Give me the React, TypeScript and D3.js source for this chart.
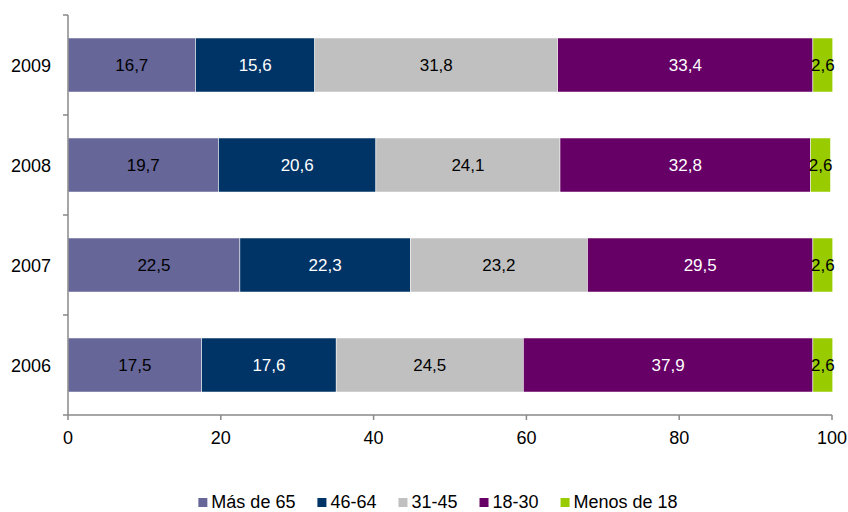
import { useEffect, useRef } from 'react';
import * as d3 from 'd3';

const years = ['2009', '2008', '2007', '2006'];
const groups = ['Más de 65', '46-64', '31-45', '18-30', 'Menos de 18'];
const colors = ['#666699', '#003366', '#c0c0c0', '#660066', '#99cc00'];
const labelColors = ['#000', '#fff', '#000', '#fff', '#000'];
const mas65 = [16.7, 19.7, 22.5, 17.5];
const de46a64 = [15.6, 20.6, 22.3, 17.6];
const de31a45 = [31.8, 24.1, 23.2, 24.5];
const de18a30 = [33.4, 32.8, 29.5, 37.9];
const menos18 = [2.6, 2.6, 2.6, 2.6];
const xTicks = [0, 20, 40, 60, 80, 100];

const App = () => {
  const svgRef = useRef<SVGSVGElement>(null);

  useEffect(() => {
    const w = 848;
    const h = 512;
    const margin = { top: 15, left: 68, right: 16, bottom: 97 };
    const svg = d3.select(svgRef.current);
    svg.selectAll('*').remove();
    svg.attr('width', w).attr('height', h);

    const font = '"Liberation Sans", Arial, sans-serif';
    const x = d3.scaleLinear().domain([0, 100]).range([margin.left, w - margin.right]);
    const y = d3.scaleBand().domain(years).range([margin.top, h - margin.bottom]).paddingInner(0.46).paddingOuter(0.23);
    const yAxisBand = d3.scaleBand().domain(years).range([margin.top, h - margin.bottom]);

    const series = [mas65, de46a64, de31a45, de18a30, menos18];
    const rows = years.map((yr, i) => {
      const row: any = { year: yr };
      groups.forEach((g, j) => (row[g] = series[j][i]));
      return row;
    });
    const stacked = d3.stack().keys(groups)(rows);

    // bars
    const layer = svg.append('g')
      .selectAll('g')
      .data(stacked)
      .enter().append('g')
      .attr('fill', (d, i) => colors[i]);

    layer.selectAll('rect')
      .data(d => d)
      .enter().append('rect')
      .attr('x', d => x(d[0]))
      .attr('y', d => y((d.data as any).year)!)
      .attr('width', d => x(d[1]) - x(d[0]))
      .attr('height', y.bandwidth())
      .attr('stroke', '#fff')
      .attr('stroke-width', 0.5);

    // labels
    stacked.forEach((s, i) => {
      svg.append('g')
        .selectAll('text')
        .data(s)
        .enter().append('text')
        .attr('x', d => (x(d[0]) + x(d[1])) / 2)
        .attr('y', d => y((d.data as any).year)! + y.bandwidth() / 2)
        .attr('dy', '0.35em')
        .attr('text-anchor', 'middle')
        .attr('fill', labelColors[i])
        .style('font-family', font)
        .style('font-size', '17px')
        .text(d => d3.format('.1f')(d[1] - d[0]).replace('.', ','));
    });

    // y axis
    const axisColor = '#898989';
    const yg = svg.append('g');
    yg.append('line')
      .attr('x1', margin.left).attr('x2', margin.left)
      .attr('y1', margin.top).attr('y2', h - margin.bottom)
      .attr('stroke', axisColor).attr('stroke-width', 1.5);
    const yTickPos = years.map(yr => yAxisBand(yr)!).concat([h - margin.bottom]);
    yg.selectAll('.tk')
      .data(yTickPos)
      .enter().append('line')
      .attr('x1', margin.left - 5).attr('x2', margin.left)
      .attr('y1', d => d).attr('y2', d => d)
      .attr('stroke', axisColor).attr('stroke-width', 1.5);
    yg.selectAll('text')
      .data(years)
      .enter().append('text')
      .attr('x', margin.left - 17)
      .attr('y', d => yAxisBand(d)! + yAxisBand.bandwidth() / 2 + 1)
      .attr('dy', '0.35em')
      .attr('text-anchor', 'end')
      .style('font-family', font)
      .style('font-size', '18px')
      .text(d => d);

    // x axis
    const xg = svg.append('g');
    const axisY = h - margin.bottom;
    xg.append('line')
      .attr('x1', margin.left).attr('x2', x(100))
      .attr('y1', axisY).attr('y2', axisY)
      .attr('stroke', axisColor).attr('stroke-width', 1.5);
    xg.selectAll('.tk')
      .data(xTicks)
      .enter().append('line')
      .attr('x1', d => x(d)).attr('x2', d => x(d))
      .attr('y1', axisY).attr('y2', axisY + 5)
      .attr('stroke', axisColor).attr('stroke-width', 1.5);
    xg.selectAll('text')
      .data(xTicks)
      .enter().append('text')
      .attr('x', d => x(d))
      .attr('y', axisY + 29)
      .attr('text-anchor', 'middle')
      .style('font-family', font)
      .style('font-size', '18px')
      .text(d => d);

    // legend
    const lg = svg.append('g');
    let cx = 0;
    const gap = 22;
    groups.forEach((g, i) => {
      const item = lg.append('g').attr('transform', `translate(${cx},0)`);
      item.append('rect')
        .attr('x', 0).attr('y', -10)
        .attr('width', 9).attr('height', 9)
        .attr('fill', colors[i]);
      const t = item.append('text')
        .attr('x', 13)
        .attr('y', 0)
        .style('font-family', font)
        .style('font-size', '18px')
        .text(g);
      const tw = (t.node() as SVGTextElement).getComputedTextLength();
      cx += 13 + tw + gap;
    });
    const totalW = cx - gap;
    lg.attr('transform', `translate(${(w - totalW) / 2 + 14},${h - 4})`);
  }, []);

  return (
    <div style={{ position: 'absolute', top: 0, left: 0 }}>
      <svg ref={svgRef} style={{ display: 'block' }}></svg>
    </div>
  );
};

export default App;
